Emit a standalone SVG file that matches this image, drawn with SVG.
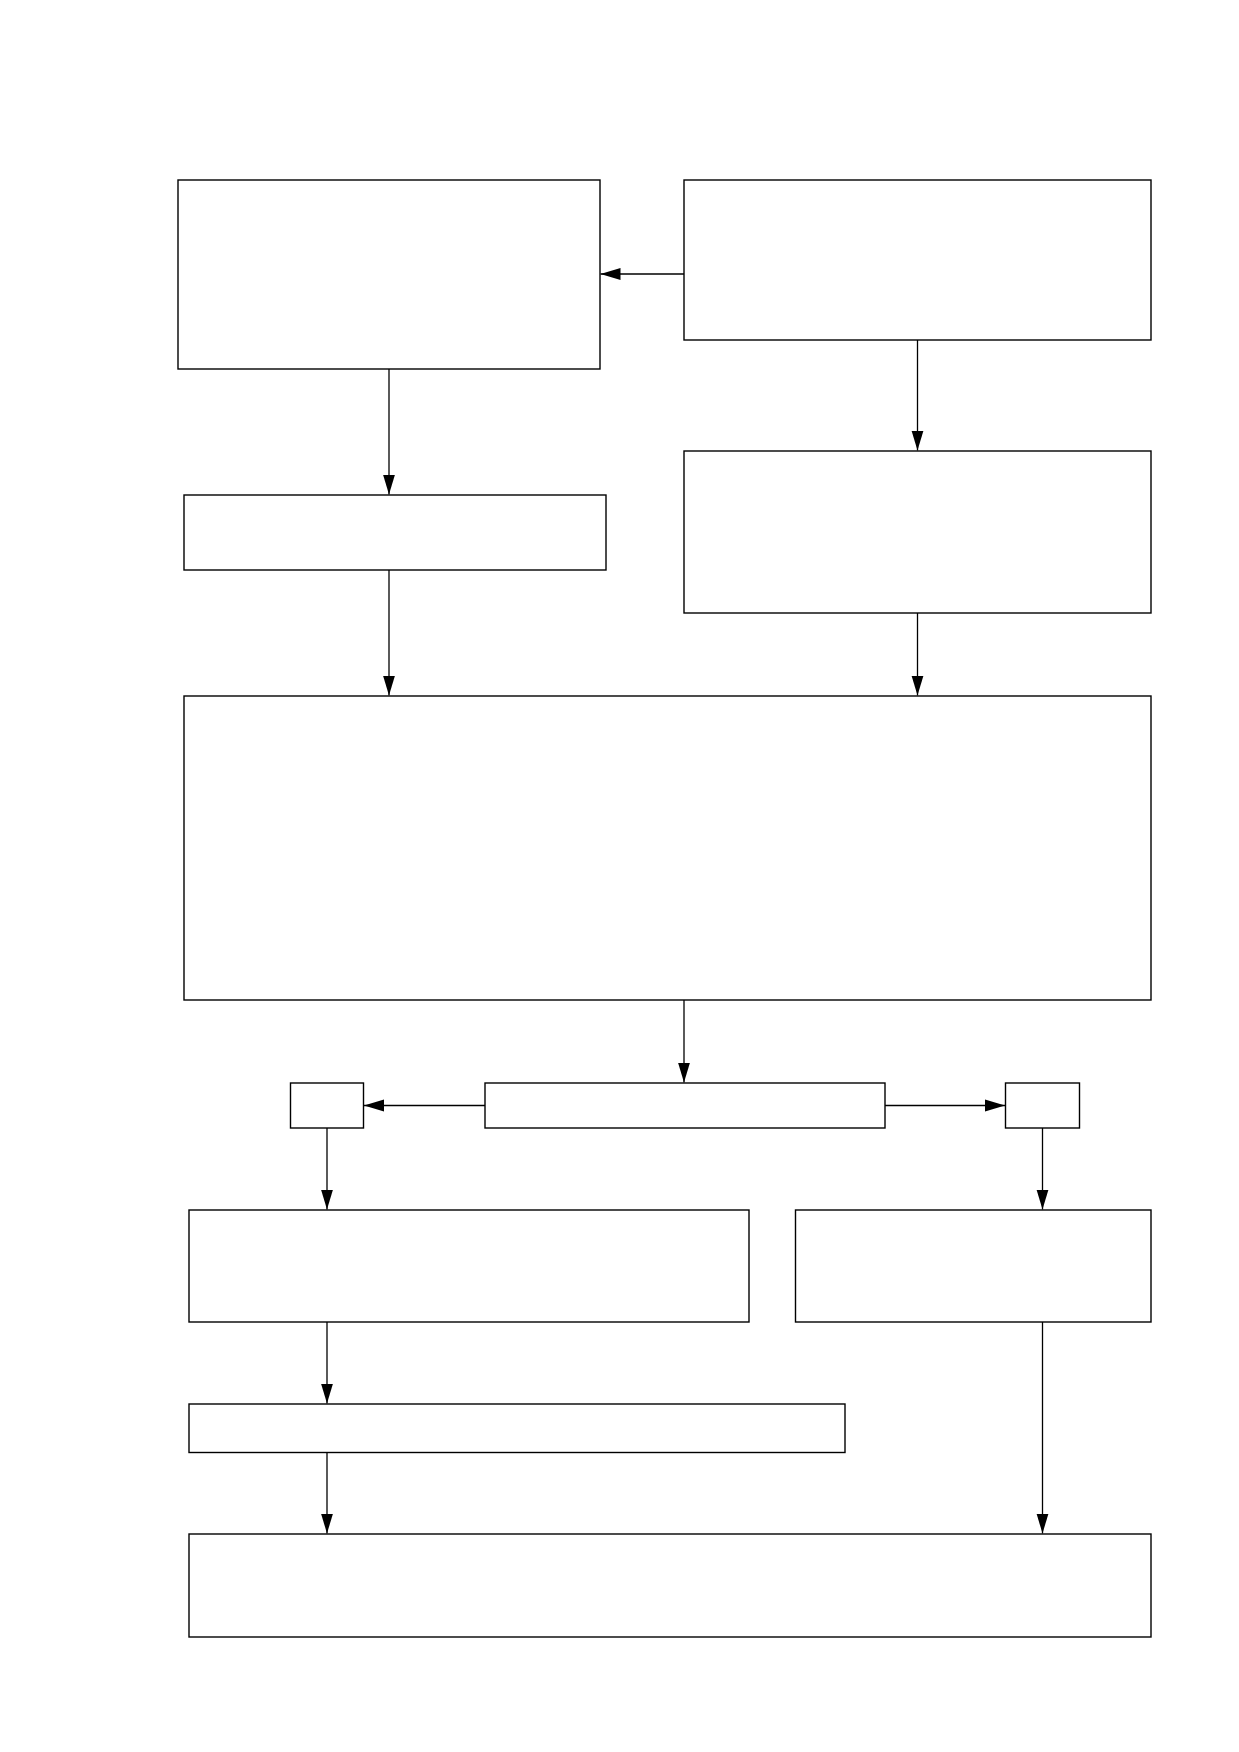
<svg xmlns="http://www.w3.org/2000/svg" width="1239" height="1752" viewBox="0 0 1239 1752">
<style>
.box{fill:#fff;stroke:#000;stroke-width:1.4}
.edge{fill:none;stroke:#000;stroke-width:1.3}
</style>
<defs>
<marker id="arr" markerUnits="userSpaceOnUse" markerWidth="21" markerHeight="14" refX="20" refY="7" orient="auto">
<path d="M0,1 L20,7 L0,13 Z" fill="#000"/>
</marker>
</defs>
<rect width="1239" height="1752" fill="#fff"/>
<g id="n1"><rect class="box" x="178" y="180" width="422" height="189"/></g>
<g id="n2"><rect class="box" x="684" y="180" width="467" height="160"/></g>
<g id="n3"><rect class="box" x="184" y="495" width="422" height="75"/></g>
<g id="n4"><rect class="box" x="684" y="451" width="467" height="162"/></g>
<g id="n5"><rect class="box" x="184" y="696" width="967" height="304"/></g>
<g id="n6"><rect class="box" x="290.5" y="1083" width="73" height="45"/></g>
<g id="n7"><rect class="box" x="485" y="1083" width="400" height="45"/></g>
<g id="n8"><rect class="box" x="1005.5" y="1083" width="74" height="45"/></g>
<g id="n9"><rect class="box" x="189" y="1210" width="560" height="112"/></g>
<g id="n10"><rect class="box" x="795.5" y="1210" width="355.5" height="112"/></g>
<g id="n11"><rect class="box" x="189" y="1404" width="656" height="48.5"/></g>
<g id="n12"><rect class="box" x="189" y="1534" width="962" height="103"/></g>
<g id="edges">
<line class="edge" x1="684" y1="274" x2="600.5" y2="274" marker-end="url(#arr)"/>
<line class="edge" x1="389" y1="369" x2="389" y2="494.5" marker-end="url(#arr)"/>
<line class="edge" x1="917.5" y1="340" x2="917.5" y2="450.5" marker-end="url(#arr)"/>
<line class="edge" x1="389" y1="570" x2="389" y2="695.5" marker-end="url(#arr)"/>
<line class="edge" x1="917.5" y1="613" x2="917.5" y2="695.5" marker-end="url(#arr)"/>
<line class="edge" x1="684" y1="1000" x2="684" y2="1082.5" marker-end="url(#arr)"/>
<line class="edge" x1="485" y1="1105.5" x2="364" y2="1105.5" marker-end="url(#arr)"/>
<line class="edge" x1="885" y1="1105.5" x2="1005" y2="1105.5" marker-end="url(#arr)"/>
<line class="edge" x1="327" y1="1128" x2="327" y2="1209.5" marker-end="url(#arr)"/>
<line class="edge" x1="1042.5" y1="1128" x2="1042.5" y2="1209.5" marker-end="url(#arr)"/>
<line class="edge" x1="327" y1="1322" x2="327" y2="1403.5" marker-end="url(#arr)"/>
<line class="edge" x1="327" y1="1452.5" x2="327" y2="1533.5" marker-end="url(#arr)"/>
<line class="edge" x1="1042.5" y1="1322" x2="1042.5" y2="1533.5" marker-end="url(#arr)"/>
</g>
</svg>
